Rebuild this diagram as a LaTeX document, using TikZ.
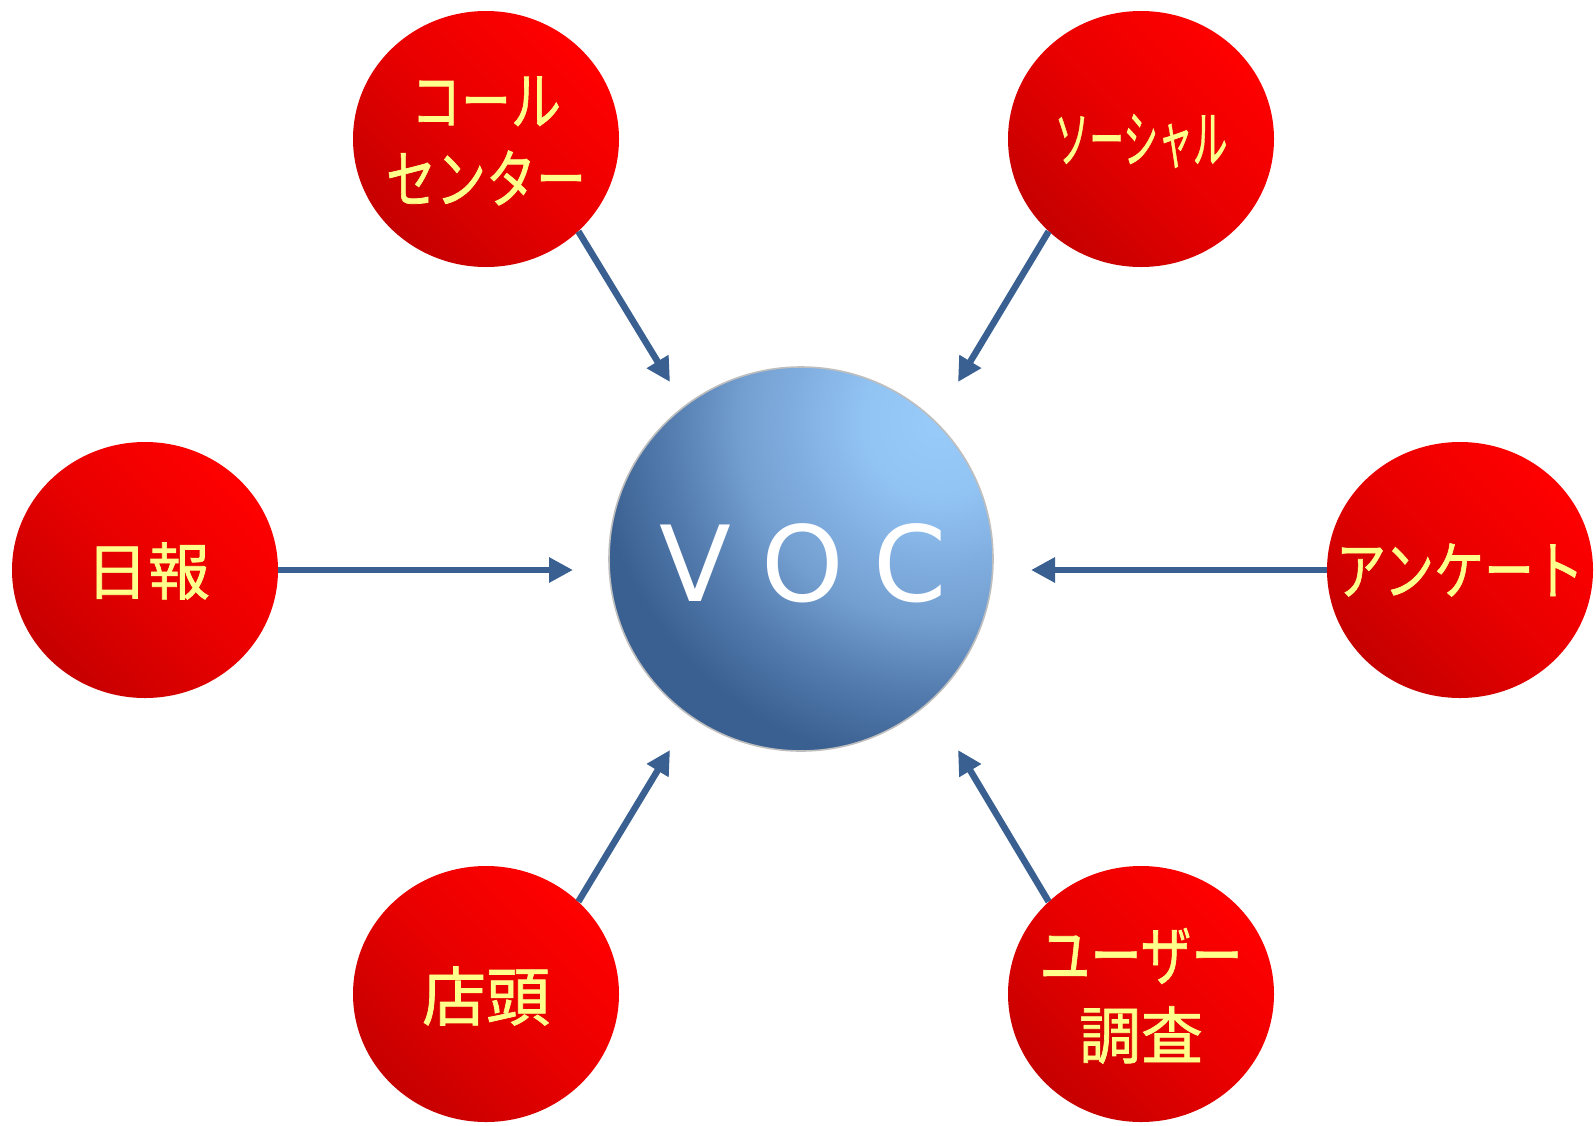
\documentclass[tikz,border=0pt]{standalone}
\usepackage{fontspec}
\newfontfamily\jp{Noto Sans CJK JP}[FakeBold=1.1]
\newfontfamily\dv{DejaVu Sans}
\usetikzlibrary{shapes.geometric,arrows.meta}
\definecolor{arrowblue}{RGB}{58,96,145}
\definecolor{redlight}{RGB}{255,0,0}
\definecolor{redmid}{RGB}{232,0,0}
\definecolor{reddark}{RGB}{198,0,0}
\definecolor{lbltext}{RGB}{255,255,140}
\definecolor{vA}{RGB}{152,202,250}
\definecolor{vB}{RGB}{145,195,243}
\definecolor{vC}{RGB}{128,173,223}
\definecolor{vD}{RGB}{115,158,208}
\definecolor{vF}{RGB}{82,122,172}
\definecolor{vE}{RGB}{58,96,145}
\definecolor{rimgray}{RGB}{190,190,190}
\pgfdeclareradialshading{vocshade}{\pgfpoint{0bp}{0bp}}{color(0bp)=(vA);color(4.9bp)=(vB);color(9.4bp)=(vC);color(12.8bp)=(vD);color(17.7bp)=(vF);color(22.2bp)=(vE);color(50bp)=(vE)}
\newcommand{\tallkana}[2][1.28]{\scalebox{1}[#1]{#2}}
\tikzset{
  source/.style={ellipse, minimum width=266pt, minimum height=256pt, inner sep=0pt,
    top color=redlight, bottom color=reddark, middle color=redmid, shading angle=-45},
  hub/.style={circle, minimum size=384pt, inner sep=0pt, draw=rimgray, line width=1.6pt,
    path picture={\shade[shading=vocshade] ([xshift=138pt,yshift=138pt]path picture bounding box.center) circle (390pt);}},
  lbl/.style={text=lbltext, align=center, inner sep=0pt, font=\jp},
  conn/.style={draw=arrowblue, line width=6.5pt, -{Triangle[length=24pt,width=24pt]}, arrowblue}
}
\begin{document}
\begin{tikzpicture}[x=1pt,y=-1pt]
\useasboundingbox (0,0) rectangle (1596,1125);
% hub
\node[hub] (voc) at (801,559) {};
\node[text=white, inner sep=0pt, font=\dv\fontsize{105}{105}\selectfont] (voctext) at (803,563) {V\hspace{31pt}O\hspace{29pt}C};
% sources
\node[source] (tl) at (486,139) {};
\node[source] (tr) at (1141,139) {};
\node[source] (ml) at (145,570) {};
\node[source] (mr) at (1460,570) {};
\node[source] (bl) at (486,994) {};
\node[source] (br) at (1141,994) {};
% labels
\node[lbl, font=\jp\fontsize{50}{78}\selectfont] (tltext) at (486,141) {\tallkana{コール}\\\tallkana{センター}};
\node[lbl, font=\jp\fontsize{56}{60}\selectfont] (trtext) at (1141,141) {\scalebox{0.62}[1.12]{ソーシャル}};
\node[lbl, font=\jp\fontsize{62}{70}\selectfont] (mltext) at (148,571) {日報};
\node[lbl, font=\jp\fontsize{50}{60}\selectfont] (mrtext) at (1460,570) {\tallkana{アンケート}};
\node[lbl, font=\jp\fontsize{64}{70}\selectfont] (bltext) at (486,996) {店頭};
\node[lbl, font=\jp\fontsize{51}{61}\selectfont] (brtext1) at (1141,956) {\tallkana{ユーザー}};
\node[lbl, font=\jp\fontsize{62}{70}\selectfont] (brtext2) at (1141,1035) {調査};
% arrow tips
\coordinate (tipTL) at (670,382);
\coordinate (tipTR) at (958,382);
\coordinate (tipML) at (573,570);
\coordinate (tipMR) at (1031,570);
\coordinate (tipBL) at (670,750);
\coordinate (tipBR) at (958,750);
% connectors
\draw[conn] (tl.-45) -- (tipTL);
\draw[conn] (tr.-135) -- (tipTR);
\draw[conn] (ml.east) -- (tipML);
\draw[conn] (mr.west) -- (tipMR);
\draw[conn] (bl.45) -- (tipBL);
\draw[conn] (br.135) -- (tipBR);
\end{tikzpicture}
\end{document}
